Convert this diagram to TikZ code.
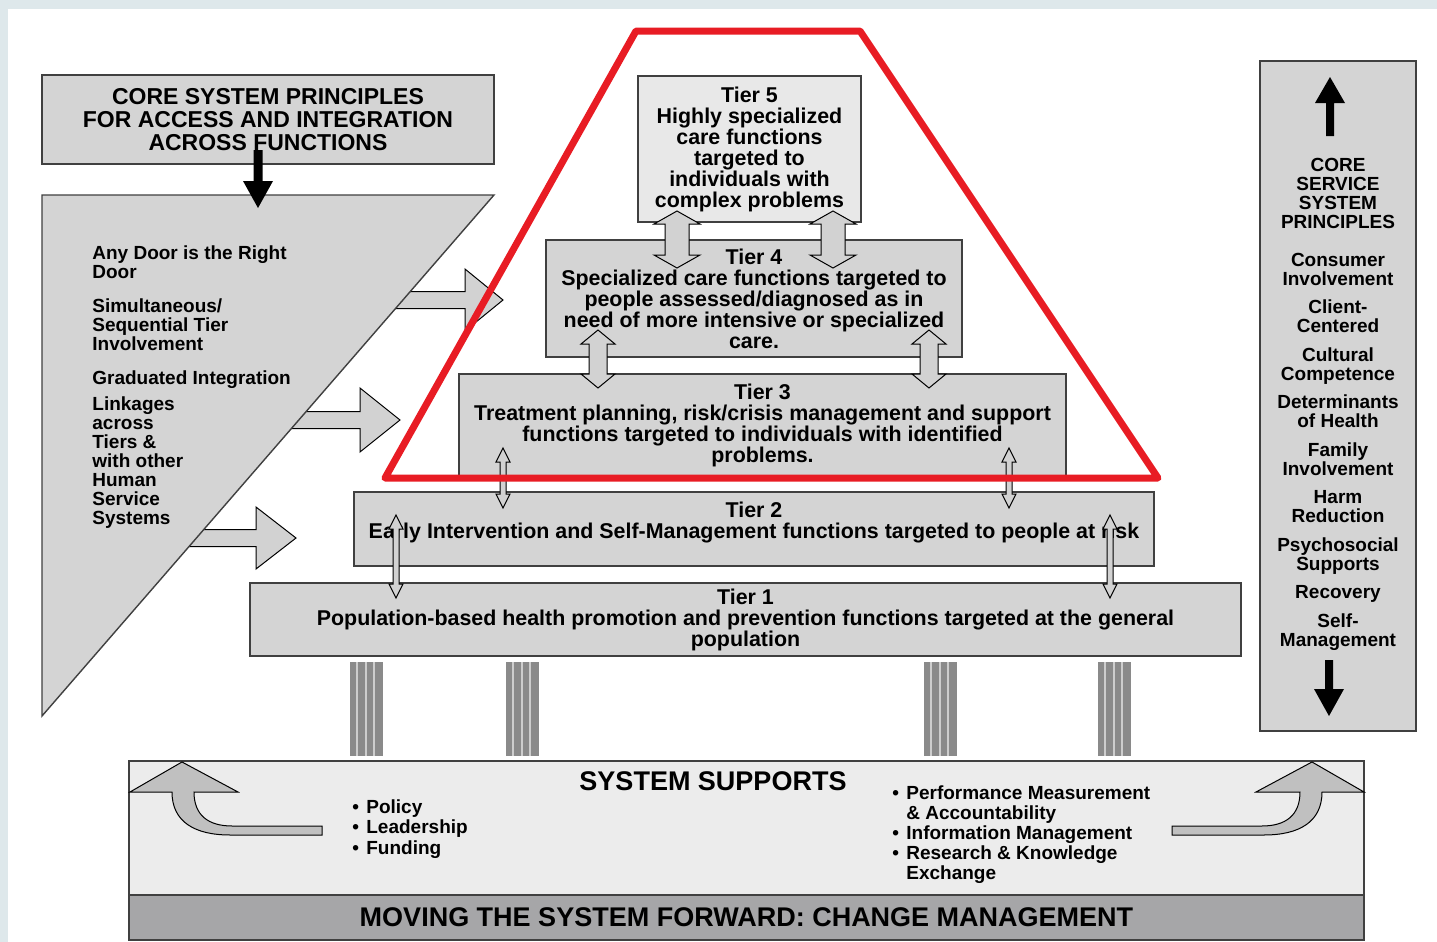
\documentclass[tikz,border=0pt]{standalone}
\usepackage{fontspec}
\setmainfont{Liberation Sans}

\definecolor{framebg}{RGB}{222,232,235}
\definecolor{boxfill}{RGB}{212,212,212}
\definecolor{tierfive}{RGB}{232,232,232}
\definecolor{edge}{RGB}{64,64,64}
\definecolor{arrowfill}{RGB}{210,210,210}
\definecolor{bentfill}{RGB}{192,192,192}
\definecolor{supportfill}{RGB}{236,236,236}
\definecolor{bandfill}{RGB}{166,166,168}
\definecolor{pillardark}{RGB}{138,138,138}
\definecolor{pillarlight}{RGB}{205,205,205}
\definecolor{hotred}{RGB}{232,28,36}

\tikzset{
  panel/.style={draw=edge, fill=boxfill, line width=0.7pt},
  tier/.style={panel, align=center, inner sep=0pt, font=\bfseries\fontsize{10.7}{10.5}\selectfont},
  blockarrow/.style={draw=black, fill=arrowfill, line width=0.5pt},
  bentarrow/.style={draw=black, fill=bentfill, line width=0.5pt},
  bodytext/.style={font=\bfseries\fontsize{9.5}{9.5}\selectfont, inner sep=0pt},
}

% two-headed block arrow: x, upper tip, lower tip, head half width, shaft half width, head length
\newcommand{\tierlink}[6]{%
  \draw[blockarrow] (#1,#2) -- ({#1+#4},{#2+#6}) -- ({#1+#5},{#2+#6}) -- ({#1+#5},{#3-#6})
    -- ({#1+#4},{#3-#6}) -- (#1,#3) -- ({#1-#4},{#3-#6}) -- ({#1-#5},{#3-#6})
    -- ({#1-#5},{#2+#6}) -- ({#1-#4},{#2+#6}) -- cycle;}
% solid black arrow: x, tip, tail, head half width, shaft half width, head length (signed)
\newcommand{\blackarrow}[6]{%
  \fill[black] (#1,#2) -- ({#1+#4},{#2+#6}) -- ({#1+#5},{#2+#6}) -- ({#1+#5},#3)
    -- ({#1-#5},#3) -- ({#1-#5},{#2+#6}) -- ({#1-#4},{#2+#6}) -- cycle;}
% right pointing block arrow: tail x, tip x, y, head half width, shaft half width, head length
\newcommand{\feedarrow}[6]{%
  \draw[blockarrow] (#1,{#3-#5}) -- ({#2-#6},{#3-#5}) -- ({#2-#6},{#3-#4}) -- (#2,#3)
    -- ({#2-#6},{#3+#4}) -- ({#2-#6},{#3+#5}) -- (#1,{#3+#5}) -- cycle;}
\newcommand{\blt}{\makebox[7pt][l]{\textbullet}}

\begin{document}
\begin{tikzpicture}[x=0.5pt, y=-0.5pt]
  \useasboundingbox (0,0) rectangle (1437,942);
  \fill[framebg] (0,0) rectangle (1437,942);
  \fill[white] (8,9) rectangle (1437,942);

  % access principles: arrows first, wedge on top of their tails
  \feedarrow{380}{503}{300}{31}{8.5}{38}
  \feedarrow{280}{400}{420}{32}{8.5}{40}
  \feedarrow{180}{296}{538}{31}{8.5}{40}
  \draw[panel] (42,195) -- (494,195) -- (42,716) -- cycle;
  \node[bodytext, align=left, anchor=north west] (access) at (92,245)
    {Any Door is the Right\\Door\\[7.5pt]
     Simultaneous/\\Sequential Tier\\Involvement\\[7.5pt]
     Graduated Integration\\[3.5pt]
     Linkages\\across\\Tiers \&\\with other\\Human\\Service\\Systems};

  \node[panel, minimum width=226pt, minimum height=44.5pt, align=center, inner sep=0pt,
        font=\bfseries\fontsize{11.5}{11.5}\selectfont] (core) at (268,119.5)
    {CORE SYSTEM PRINCIPLES\\FOR ACCESS AND INTEGRATION\\ACROSS FUNCTIONS};
  \blackarrow{258}{208}{150}{15}{4.5}{-27}

  % the tiers
  \node[tier, minimum width=495.5pt, minimum height=36.5pt] (t1) at (745.5,619.5)
    {Tier 1\\Population-based health promotion and prevention functions targeted at the general\\population};
  \node[tier, minimum width=400pt, minimum height=37pt] (t2) at (754,529)
    {Tier 2\\Early Intervention and Self-Management functions targeted to people at risk\\[-1.5pt]};
  \node[tier, minimum width=303.5pt, minimum height=51pt] (t3) at (762.5,425)
    {Tier 3\\Treatment planning, risk/crisis management and support\\functions targeted to individuals with identified\\problems.};
  \node[tier, minimum width=208pt, minimum height=58.5pt] (t4) at (754,298.5)
    {Tier 4\\Specialized care functions targeted to\\people assessed/diagnosed as in\\need of more intensive or specialized\\care.};
  \node[tier, fill=tierfive, minimum width=111.5pt, minimum height=73pt] (t5) at (749.5,149)
    {Tier 5\\Highly specialized\\care functions\\targeted to\\individuals with\\complex problems};

  \tierlink{677}{211}{268}{23}{12}{13}
  \tierlink{833}{211}{268}{23}{12}{13}
  \tierlink{598}{330}{388}{17}{9}{14}
  \tierlink{929}{330}{388}{17}{9}{14}
  \tierlink{503}{448}{508}{7}{3}{14}
  \tierlink{1009}{448}{508}{7}{3}{14}
  \tierlink{396}{515}{598}{7}{3}{14}
  \tierlink{1110}{515}{598}{7}{3}{14}

  % service principles column
  \node[panel, minimum width=78pt, minimum height=335pt] (service) at (1338,396) {};
  \node[bodytext, align=center] (servicetext) at (1338,404)
    {CORE\\SERVICE\\SYSTEM\\PRINCIPLES\\[9.5pt]
     Consumer\\Involvement\\[4.75pt]
     Client-\\Centered\\[4.75pt]
     Cultural\\Competence\\[4.75pt]
     Determinants\\of Health\\[4.75pt]
     Family\\Involvement\\[4.75pt]
     Harm\\Reduction\\[4.75pt]
     Psychosocial\\Supports\\[4.75pt]
     Recovery\\[4.75pt]
     Self-\\Management};
  \blackarrow{1330}{77}{136}{15}{4}{26}
  \blackarrow{1329}{716}{660}{15}{4}{-27}

  % pillars
  \foreach \px in {366,522,940,1114}{
    \fill[pillardark] ({\px-16},662) rectangle ({\px+17},756);
    \foreach \dx in {-9,0,8}
      \fill[pillarlight] ({\px+\dx-1.2},662) rectangle ({\px+\dx+1.2},756);
  }

  % system supports
  \node[draw=edge, fill=supportfill, line width=0.7pt, minimum width=617.5pt,
        minimum height=67pt] (supports) at (746.5,828) {};
  \node[draw=edge, fill=bandfill, line width=0.7pt, minimum width=617.5pt,
        minimum height=22.5pt, inner sep=0pt, font=\bfseries\fontsize{13.5}{13.5}\selectfont]
    (band) at (746.5,917.5) {MOVING THE SYSTEM FORWARD: CHANGE MANAGEMENT};
  \node[font=\bfseries\fontsize{13.5}{13.5}\selectfont, inner sep=0pt] (supporttitle) at (713,781) {SYSTEM SUPPORTS};
  \node[bodytext, align=left, anchor=north west, font=\bfseries\fontsize{9.5}{10.25}\selectfont]
    (supportsleft) at (352,799) {\blt Policy\\\blt Leadership\\\blt Funding};
  \node[bodytext, align=left, anchor=north west, font=\bfseries\fontsize{9.5}{10}\selectfont]
    (supportsright) at (892,785)
    {\blt Performance Measurement\\\makebox[7pt]{}\& Accountability\\\blt Information Management\\
     \blt Research \& Knowledge\\\makebox[7pt]{}Exchange};

  \draw[bentarrow] (130,792) -- (182,762) -- (238,792) -- (194,792)
    .. controls (194,815) and (208,826) .. (232,826) -- (322,826) -- (322,835) -- (230,835)
    .. controls (195,835) and (172,822) .. (172,792) -- cycle;
  \begin{scope}[shift={(1494,0)}, xscale=-1]
    \draw[bentarrow] (130,792) -- (182,762) -- (238,792) -- (194,792)
      .. controls (194,815) and (208,826) .. (232,826) -- (322,826) -- (322,835) -- (230,835)
      .. controls (195,835) and (172,822) .. (172,792) -- cycle;
  \end{scope}

  % highlight round tiers 3 to 5
  \draw[hotred, line width=3.5pt, line join=round] (636,31) -- (860,31) -- (1158,478) -- (385,478) -- cycle;
\end{tikzpicture}
\end{document}
